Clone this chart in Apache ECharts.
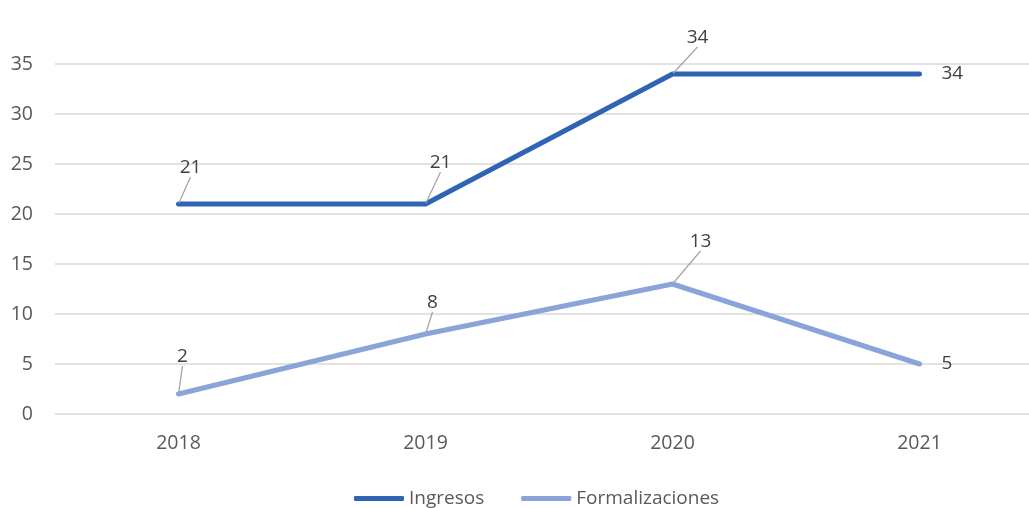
<!DOCTYPE html>
<html>
<head>
<meta charset="utf-8">
<script src="https://cdn.jsdelivr.net/npm/echarts@6/dist/echarts.min.js"></script>
<style>html,body{margin:0;padding:0;background:#fff}#c{width:1029px;height:508px}</style>
</head>
<body>
<div id="c"></div>
<script>
var categories = ['2018', '2019', '2020', '2021'];
var ingresos = [21, 21, 34, 34];
var formalizaciones = [2, 8, 13, 5];
var seriesNames = ['Ingresos', 'Formalizaciones'];

// label offsets (styling only)
var labelShift = [
  [[12, -21], [15, -26], [25, -21], null],
  [[4, -22], [7, -16], [28, -27], null]
];

var font = 'Open Sans';
function buildData(vals) {
  return vals.map(function (v, i) {
    if (i === vals.length - 1) {
      return { value: v, label: { position: 'right', distance: 21 }, labelLine: { show: false } };
    }
    return v;
  });
}
function mkSeries(name, vals, color) {
  return {
    name: name,
    type: 'line',
    data: buildData(vals),
    symbol: 'circle',
    symbolSize: 2,
    showSymbol: true,
    lineStyle: { color: color, width: 5, cap: 'round', join: 'round' },
    itemStyle: { color: color },
    label: { show: true, position: 'top', distance: 5, color: '#404040', fontSize: 19, fontFamily: font },
    labelLine: { show: true, lineStyle: { color: '#a6a6a6', width: 1.3 }, length2: 0 },
    emphasis: { disabled: true },
    animation: false
  };
}
var chart = echarts.init(document.getElementById('c'));
chart.setOption({
  animation: false,
  grid: { left: 55, top: 14, width: 988, bottom: 94, containLabel: false, outerBoundsMode: 'none' },
  legend: {
    top: 484,
    left: 349,
    itemWidth: 50,
    itemHeight: 5,
    itemGap: 37,
    icon: 'roundRect',
    textStyle: { color: '#595959', fontSize: 19, fontFamily: font },
    data: seriesNames
  },
  xAxis: {
    type: 'category',
    data: categories,
    boundaryGap: true,
    axisLine: { show: false },
    axisTick: { show: false },
    axisLabel: { color: '#595959', fontSize: 19.5, fontFamily: font, margin: 19 }
  },
  yAxis: {
    type: 'value',
    min: 0, max: 40, interval: 5,
    axisLine: { show: false },
    axisTick: { show: false },
    splitLine: { showMaxLine: false, lineStyle: { color: '#d9d9d9', width: 1.5 } },
    axisLabel: { showMaxLabel: false, color: '#595959', fontSize: 19.5, fontFamily: font, margin: 22 }
  },
  labelLayout: function (p) {
    var s = labelShift[p.seriesIndex] && labelShift[p.seriesIndex][p.dataIndex];
    if (!s) return {};
    return { dx: s[0], dy: s[1] };
  },
  series: [
    mkSeries(seriesNames[0], ingresos, '#2f64b4'),
    mkSeries(seriesNames[1], formalizaciones, '#8aa3d9')
  ]
});
</script>
</body>
</html>
